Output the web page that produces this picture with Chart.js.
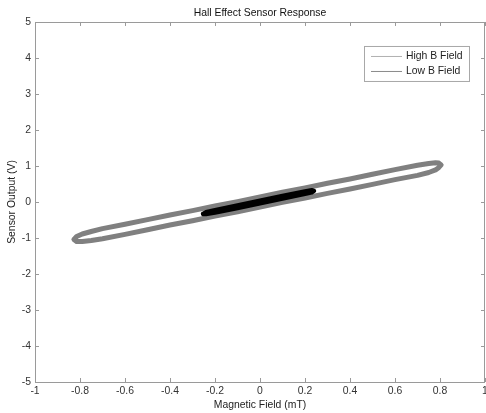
<!DOCTYPE html>
<html>
<head>
<meta charset="utf-8">
<script src="https://cdn.jsdelivr.net/npm/chart.js@4.4.1/dist/chart.umd.min.js"></script>
<style>
  html, body { margin: 0; padding: 0; background: #ffffff; }
  canvas { display: block; }
</style>
</head>
<body>
<canvas id="c" width="486" height="413"></canvas>
<script>
// ---- Data ----
const chartTitle = "Hall Effect Sensor Response";
const xTitle = "Magnetic Field (mT)";
const yTitle = "Sensor Output (V)";
const seriesNames = ["High B Field", "Low B Field"];

// High B Field loop: field (mT) and output (V), traced around the loop
const highField = [
  -0.827, -0.815, -0.79, -0.75, -0.70, -0.60, -0.50, -0.40, -0.30, -0.20, -0.10,
   0.00, 0.10, 0.20, 0.30, 0.40, 0.50, 0.60, 0.70, 0.75, 0.78, 0.795, 0.805,
   0.795, 0.78, 0.75, 0.70, 0.60, 0.50, 0.40, 0.30, 0.20, 0.10, 0.00,
  -0.10, -0.20, -0.30, -0.40, -0.50, -0.60, -0.70, -0.75, -0.79, -0.815, -0.827
];
const highOutput = [
  -1.04, -0.96, -0.89, -0.82, -0.74, -0.62, -0.49, -0.36, -0.24, -0.11, 0.01,
   0.14, 0.27, 0.39, 0.52, 0.64, 0.77, 0.90, 1.02, 1.07, 1.09, 1.08, 1.03,
   0.96, 0.89, 0.82, 0.74, 0.62, 0.49, 0.36, 0.24, 0.11, -0.01, -0.14,
  -0.27, -0.39, -0.52, -0.64, -0.77, -0.90, -1.02, -1.07, -1.10, -1.10, -1.04
];

// Low B Field loop
const lowField = [
  -0.253, -0.24, -0.20, -0.10, 0.00, 0.10, 0.20, 0.23, 0.24,
   0.23, 0.20, 0.10, 0.00, -0.10, -0.20, -0.24, -0.253
];
const lowOutput = [
  -0.33, -0.285, -0.225, -0.095, 0.035, 0.165, 0.295, 0.325, 0.31,
   0.27, 0.225, 0.095, -0.035, -0.165, -0.295, -0.335, -0.33
];

// Axis ranges / ticks
const xMin = -1, xMax = 1, xStep = 0.2;
const yMin = -5, yMax = 5, yStep = 1;

// ---- Build chart ----
function pts(xs, ys) { return xs.map((x, i) => ({ x: x, y: ys[i] })); }

const FONT = "'Liberation Sans', Arial, Helvetica, sans-serif";
const FS = 10.4;
const BOX = '#9a9a9a';

const boxTicksPlugin = {
  id: 'boxTicks',
  afterDatasetsDraw(chart) {
    const { ctx, chartArea: a, scales } = chart;
    ctx.save();
    ctx.strokeStyle = BOX;
    ctx.lineWidth = 1;
    ctx.beginPath();
    ctx.rect(Math.round(a.left) + 0.5, Math.round(a.top) + 0.5,
             Math.round(a.right - a.left) - 1, Math.round(a.bottom - a.top));
    ctx.stroke();
    const L = 4;
    ctx.beginPath();
    scales.x.ticks.forEach(t => {
      const px = Math.round(scales.x.getPixelForValue(t.value)) + 0.5;
      ctx.moveTo(px, a.bottom); ctx.lineTo(px, a.bottom - L);
      ctx.moveTo(px, a.top); ctx.lineTo(px, a.top + L);
    });
    scales.y.ticks.forEach(t => {
      const py = Math.round(scales.y.getPixelForValue(t.value)) + 0.5;
      ctx.moveTo(a.left, py); ctx.lineTo(a.left + L, py);
      ctx.moveTo(a.right, py); ctx.lineTo(a.right - L, py);
    });
    ctx.stroke();
    ctx.restore();
  }
};

const legendPlugin = {
  id: 'boxLegend',
  afterDraw(chart) {
    const { ctx, chartArea: a } = chart;
    const right = a.right - 16, top = a.top + 24;
    const w = 105, h = 35;
    const left = right - w;
    ctx.save();
    ctx.fillStyle = '#ffffff';
    ctx.fillRect(left, top, w, h);
    ctx.strokeStyle = '#a8a8a8';
    ctx.lineWidth = 1;
    ctx.strokeRect(left + 0.5, top + 0.5, w, h);
    const rows = [
      { name: seriesNames[0], color: '#b0b0b0', y: top + 10.5 },
      { name: seriesNames[1], color: '#8a8a8a', y: top + 25.5 }
    ];
    ctx.font = FS + 'px ' + FONT;
    ctx.textBaseline = 'middle';
    ctx.textAlign = 'left';
    rows.forEach(r => {
      ctx.strokeStyle = r.color;
      ctx.beginPath();
      ctx.moveTo(left + 7, r.y); ctx.lineTo(left + 38, r.y);
      ctx.stroke();
      ctx.fillStyle = '#222222';
      ctx.fillText(r.name, left + 42, r.y);
    });
    ctx.restore();
  }
};

new Chart(document.getElementById('c'), {
  type: 'scatter',
  data: {
    datasets: [
      {
        label: seriesNames[0],
        data: pts(highField, highOutput),
        showLine: true,
        borderColor: '#808080',
        backgroundColor: '#808080',
        borderWidth: 5,
        pointRadius: 0,
        borderJoinStyle: 'round',
        borderCapStyle: 'round',
        tension: 0,
        order: 2
      },
      {
        label: seriesNames[1],
        data: pts(lowField, lowOutput),
        showLine: true,
        borderColor: '#000000',
        backgroundColor: '#000000',
        borderWidth: 4.5,
        pointRadius: 0,
        borderJoinStyle: 'round',
        borderCapStyle: 'round',
        tension: 0,
        order: 1
      }
    ]
  },
  options: {
    responsive: false,
    devicePixelRatio: 1,
    animation: false,
    layout: { padding: { left: 0, right: 1, top: 0, bottom: 0 } },
    plugins: {
      legend: { display: false },
      tooltip: { enabled: false },
      title: {
        display: true,
        text: chartTitle,
        fullSize: false,
        color: '#111111',
        font: { family: FONT, size: FS, weight: 'normal', lineHeight: 1.2 },
        padding: { top: 7, bottom: 2.5 }
      }
    },
    scales: {
      x: {
        type: 'linear',
        min: xMin, max: xMax,
        grid: { display: false, drawTicks: false },
        border: { display: false },
        ticks: {
          stepSize: xStep,
          color: '#333333',
          font: { family: FONT, size: FS },
          padding: 3,
          maxRotation: 0,
          autoSkip: false,
          callback: v => String(Number(Number(v).toFixed(1)))
        },
        title: {
          display: true,
          text: xTitle,
          color: '#222222',
          font: { family: FONT, size: FS, lineHeight: 1.2 },
          padding: { top: 0, bottom: 2 }
        },
        afterFit(scale) {
          scale.height = 31;
          scale.paddingLeft = 0;
          scale.paddingRight = 0;
        }
      },
      y: {
        type: 'linear',
        min: yMin, max: yMax,
        grid: { display: false, drawTicks: false },
        border: { display: false },
        ticks: {
          stepSize: yStep,
          color: '#333333',
          font: { family: FONT, size: FS },
          padding: 4,
          autoSkip: false,
          callback: v => String(Number(v))
        },
        title: {
          display: true,
          text: yTitle,
          color: '#222222',
          font: { family: FONT, size: FS, lineHeight: 1.2 },
          padding: { top: 6, bottom: 0 }
        },
        afterFit(scale) {
          scale.width = 35;
          scale.paddingTop = 0;
          scale.paddingBottom = 0;
        }
      }
    }
  },
  plugins: [boxTicksPlugin, legendPlugin]
});
</script>
</body>
</html>
